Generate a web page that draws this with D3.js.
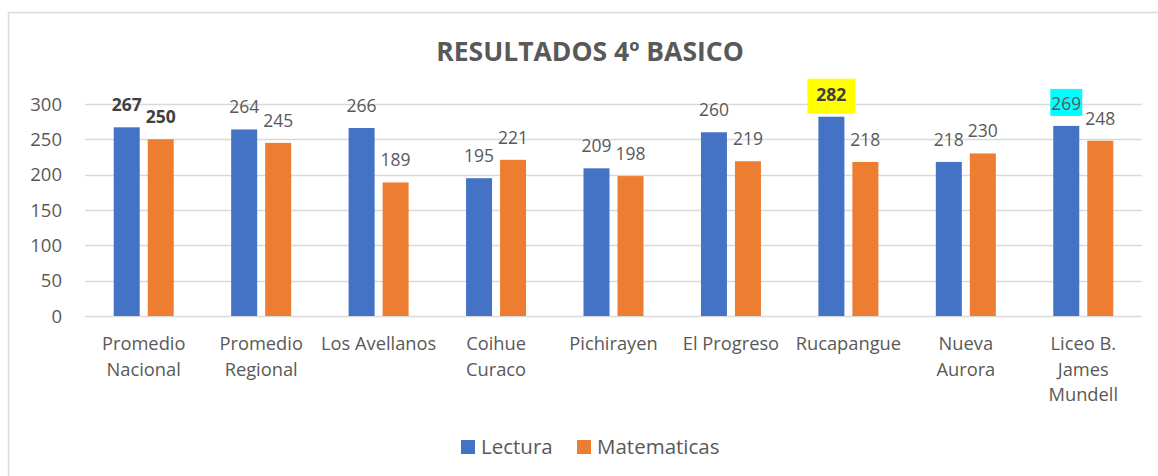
<!DOCTYPE html>
<html><head><meta charset="utf-8">
<script src="https://cdn.jsdelivr.net/npm/d3@7"></script>
<style>body{margin:0;background:#fff}svg{display:block}</style>
</head><body>
<svg id="c" width="1158" height="476"></svg>
<script>
const categories = [["Promedio","Nacional"],["Promedio","Regional"],["Los Avellanos"],["Coihue","Curaco"],["Pichirayen"],["El Progreso"],["Rucapangue"],["Nueva","Aurora"],["Liceo B.","James","Mundell"]];
const lectura = [267,264,266,195,209,260,282,218,269];
const matematicas = [250,245,189,221,198,219,218,230,248];
const seriesNames = ["Lectura","Matematicas"];
const colors = ["#4472C4","#ED7D31"];
const yTicks = [0,50,100,150,200,250,300];
const boldLabels = {"0-0":true,"1-0":true,"0-6":true};
const labelBg = {"0-6":"#FFFF00","0-8":"#00FFFF"};

const svg = d3.select("#c");
const font = "'Open Sans', sans-serif";
const txt = "#595959";
svg.append("rect").attr("x",8.5).attr("y",12.5).attr("width",1200).attr("height",500)
  .attr("fill","#fff").attr("stroke","#d9d9d9").attr("stroke-width",1.5);

const x = d3.scaleBand().domain(d3.range(categories.length)).range([85,1142]);
const y = d3.scaleLinear().domain([0,300]).range([316,104]);

svg.append("text").attr("x",590).attr("y",61).attr("text-anchor","middle")
  .attr("font-family",font).attr("font-weight","bold").attr("font-size",26.5).attr("fill",txt)
  .text("RESULTADOS 4º BASICO");

const g = svg.append("g");
g.selectAll("line.grid").data(yTicks).join("line")
  .attr("x1",85).attr("x2",1142).attr("y1",d=>Math.round(y(d))+0.5).attr("y2",d=>Math.round(y(d))+0.5)
  .attr("stroke","#d9d9d9").attr("stroke-width",1.3);
g.selectAll("text.yt").data(yTicks).join("text")
  .attr("x",62).attr("y",d=>y(d)).attr("dy","0.36em").attr("text-anchor","end")
  .attr("font-family",font).attr("font-size",18.5).attr("fill",txt).text(d=>d);

const barW = 26, gap = 8;
const series = [lectura, matematicas];
series.forEach((vals,si)=>{
  vals.forEach((v,i)=>{
    const cx = x(i)+x.bandwidth()/2;
    const bx = si===0 ? cx - gap/2 - barW : cx + gap/2;
    g.append("rect").attr("x",bx).attr("y",y(v)).attr("width",barW).attr("height",y(0)-y(v))
      .attr("fill",colors[si]);
    const key = si+"-"+i;
    const lx = bx+barW/2, ly = y(v)-16;
    if(labelBg[key]){
      const big = key==="0-6";
      const w = big?48:32;
      g.append("rect").attr("x",lx-w/2).attr("y",ly-(big?22:21)).attr("width",w).attr("height",big?35:27)
        .attr("fill",labelBg[key]);
    }
    g.append("text").attr("x",lx).attr("y",ly).attr("text-anchor","middle")
      .attr("font-family",font).attr("font-size",17.5).attr("fill",boldLabels[key]?"#404040":txt)
      .attr("font-weight",boldLabels[key]?"bold":"normal").text(v);
  });
});

categories.forEach((lines,i)=>{
  const t = g.append("text").attr("x",x(i)+x.bandwidth()/2).attr("y",350).attr("text-anchor","middle")
    .attr("font-family",font).attr("font-size",18.3).attr("fill",txt);
  lines.forEach((l,j)=>t.append("tspan").attr("x",x(i)+x.bandwidth()/2).attr("dy",j?25.5:0).text(l));
});

const leg = [{x:461,tx:481},{x:577,tx:597}];
seriesNames.forEach((n,i)=>{
  svg.append("rect").attr("x",leg[i].x).attr("y",440).attr("width",14).attr("height",14).attr("fill",colors[i]);
  svg.append("text").attr("x",leg[i].tx).attr("y",447).attr("dy","0.36em").attr("font-family",font)
    .attr("font-size",20.5).attr("fill",txt).text(n);
});
</script>
</body></html>
